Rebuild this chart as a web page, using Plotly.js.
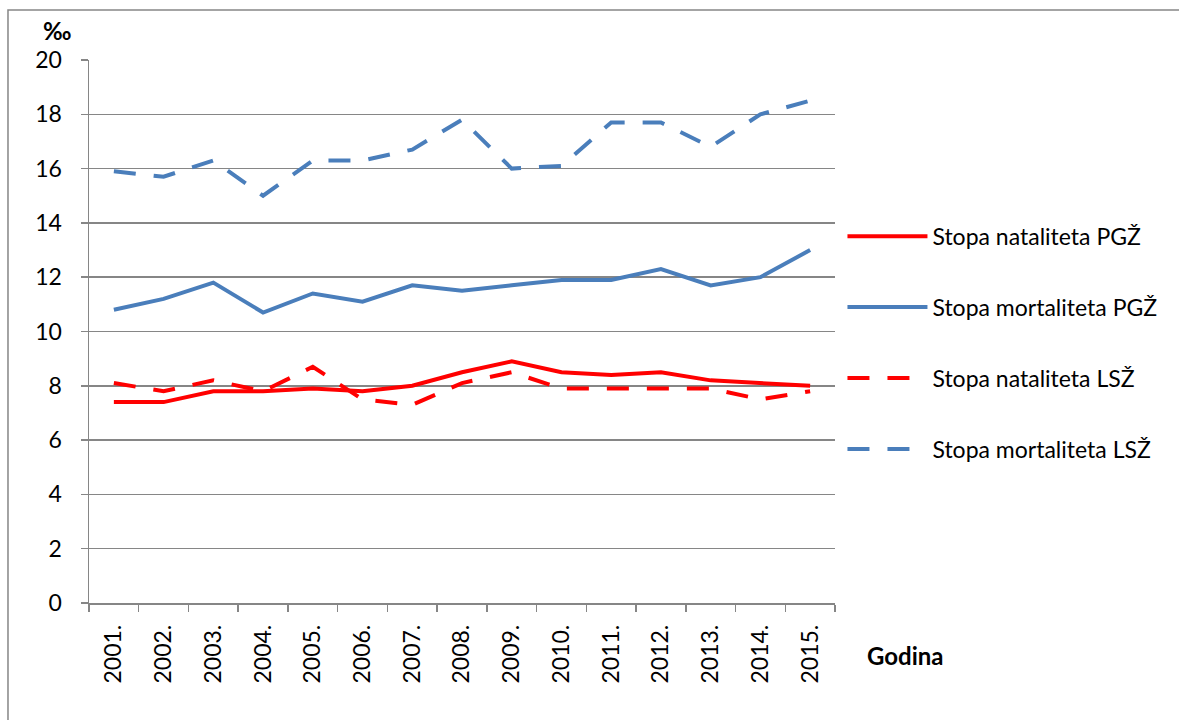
<!DOCTYPE html>
<html>
<head>
<meta charset="utf-8">
<script src="https://cdn.plot.ly/plotly-3.0.1.min.js"></script>
<style>
html,body{margin:0;padding:0;background:#fff;}
#chart{width:1179px;height:720px;}
</style>
</head>
<body>
<div id="chart"></div>
<script>
const years = ["2001.","2002.","2003.","2004.","2005.","2006.","2007.","2008.","2009.","2010.","2011.","2012.","2013.","2014.","2015."];
const natalitetPGZ = [7.4,7.4,7.8,7.8,7.9,7.8,8.0,8.5,8.9,8.5,8.4,8.5,8.2,8.1,8.0];
const mortalitetPGZ = [10.8,11.2,11.8,10.7,11.4,11.1,11.7,11.5,11.7,11.9,11.9,12.3,11.7,12.0,13.0];
const natalitetLSZ = [8.1,7.8,8.2,7.8,8.7,7.5,7.3,8.1,8.5,7.9,7.9,7.9,7.9,7.5,7.8];
const mortalitetLSZ = [15.9,15.7,16.3,15.0,16.3,16.3,16.7,17.8,16.0,16.1,17.7,17.7,16.8,18.0,18.5];
const seriesNames = ["Stopa nataliteta PGŽ","Stopa mortaliteta PGŽ","Stopa nataliteta LSŽ","Stopa mortaliteta LSŽ"];
const yTicks = [0,2,4,6,8,10,12,14,16,18,20];

const RED = "#FF0000", BLUE = "#4A7EBB";
const FONT = "Lato, 'Open Sans', sans-serif";
const DASH = "22px,18px";

function tr(y, name, color, dash, g){
  return {x: years, y: y, name: name, type: "scatter", mode: "lines",
    legendgroup: g,
    line: {color: color, width: 4, dash: dash}, hoverinfo: "skip"};
}
const data = [
  tr(natalitetPGZ, seriesNames[0], RED, "solid", "a"),
  tr(mortalitetPGZ, seriesNames[1], BLUE, "solid", "b"),
  tr(natalitetLSZ, seriesNames[2], RED, DASH, "c"),
  tr(mortalitetLSZ, seriesNames[3], BLUE, DASH, "d")
];

const layout = {
  width: 1179, height: 720,
  margin: {l: 89, r: 344, t: 60, b: 117},
  paper_bgcolor: "#fff", plot_bgcolor: "#fff",
  font: {family: FONT, color: "#000", size: 23},
  showlegend: true,
  legend: {x: 1.01, y: 0.715, xanchor: "left", yanchor: "top",
    font: {family: FONT, size: 23, color: "#000"},
    tracegroupgap: 38, traceorder: "grouped", itemwidth: 80,
    bgcolor: "rgba(0,0,0,0)"},
  xaxis: {type: "category", range: [-0.5, 14.5], tickson: "boundaries",
    ticks: "outside", ticklen: 7, tickcolor: "#868686", tickwidth: 1.5,
    showline: true, linecolor: "#868686", linewidth: 1.5,
    showgrid: false, zeroline: false, tickangle: -90, ticklabelstandoff: 11,
    tickfont: {family: FONT, size: 23, color: "#000"}, fixedrange: true},
  yaxis: {range: [0, 20], tickvals: yTicks, ticktext: yTicks.map(String),
    ticks: "outside", ticklen: 7, tickcolor: "#868686", tickwidth: 1.5,
    showline: true, linecolor: "#868686", linewidth: 1.5,
    showgrid: true, gridcolor: "#868686", gridwidth: 1.5, zeroline: false,
    ticklabelstandoff: 14,
    tickfont: {family: FONT, size: 23, color: "#000"}, fixedrange: true},
  annotations: [
    {text: "<b>‰</b>", xref: "paper", yref: "paper", x: -0.043, y: 1.055,
     xanchor: "center", yanchor: "middle", showarrow: false,
     font: {family: FONT, size: 24, color: "#000"}},
    {text: "<b>Godina</b>", xref: "paper", yref: "paper", x: 1.04, y: -0.097,
     xanchor: "left", yanchor: "middle", showarrow: false,
     font: {family: FONT, size: 24, color: "#000"}}
  ],
  shapes: [
    {type: "rect", xref: "paper", yref: "paper", x0: -0.1086, x1: 1.6, y0: -0.5, y1: 1.092,
     line: {color: "#868686", width: 1.5}, fillcolor: "rgba(0,0,0,0)", layer: "below"}
  ]
};

Plotly.newPlot("chart", data, layout, {displayModeBar: false, staticPlot: true});
</script>
</body>
</html>
